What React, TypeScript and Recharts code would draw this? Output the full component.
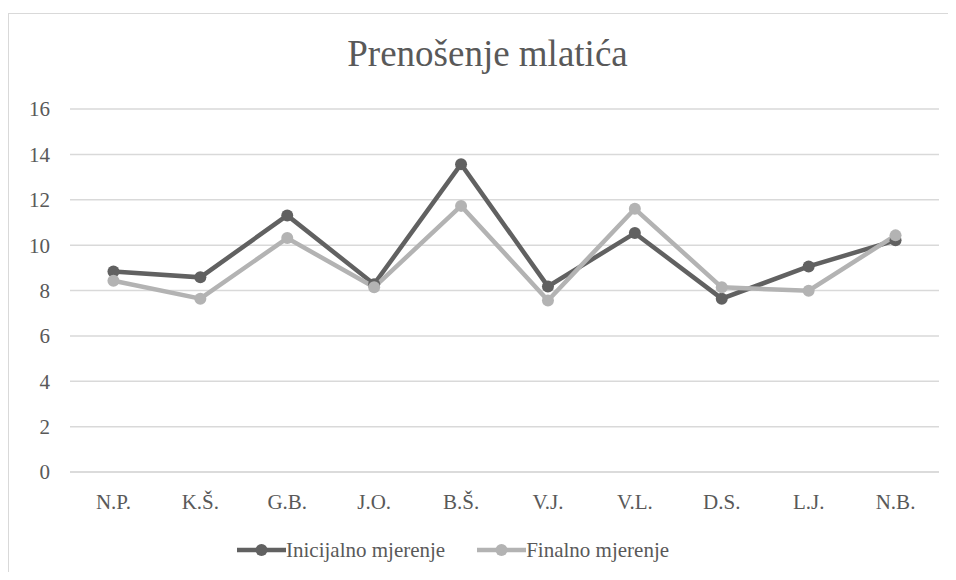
import { CartesianGrid, Legend, Line, LineChart, XAxis, YAxis } from 'recharts'

const categories = ['N.P.', 'K.Š.', 'G.B.', 'J.O.', 'B.Š.', 'V.J.', 'V.L.', 'D.S.', 'L.J.', 'N.B.']
const inicijalno = [8.84, 8.58, 11.31, 8.28, 13.57, 8.18, 10.53, 7.64, 9.06, 10.21]
const finalno = [8.43, 7.64, 10.31, 8.14, 11.73, 7.56, 11.6, 8.14, 7.99, 10.43]
const yTicks = [0, 2, 4, 6, 8, 10, 12, 14, 16]

const SERIES = [
  { key: 'inicijalno', label: 'Inicijalno mjerenje', color: '#616161' },
  { key: 'finalno', label: 'Finalno mjerenje', color: '#b3b3b3' }
]

const FONT = 'Liberation Serif, DejaVu Serif, serif'
const TEXT = '#595959'
const GRID = '#d9d9d9'

const rows = categories.map((name, i) => ({
  name,
  inicijalno: inicijalno[i],
  finalno: finalno[i]
}))

function LegendContent() {
  return (
    <div style={{ height: 30, display: 'flex', alignItems: 'center', paddingLeft: 229, fontFamily: FONT, fontSize: 21, color: TEXT }}>
      {SERIES.map((s, i) => (
        <span key={s.key} style={{ display: 'flex', alignItems: 'center', marginRight: i === 0 ? 32 : 0 }}>
          <svg width={49} height={14} style={{ display: 'block' }}>
            <line x1={0} y1={7} x2={49} y2={7} stroke={s.color} strokeWidth={4.5} strokeLinecap="round" />
            <circle cx={24.5} cy={7} r={6} fill={s.color} />
          </svg>
          <span>{s.label}</span>
        </span>
      ))}
    </div>
  )
}

export default function App() {
  return (
    <div style={{ position: 'relative', width: 948, height: 564, overflow: 'hidden', fontFamily: FONT }}>
      <div
        style={{
          position: 'absolute',
          left: 0,
          top: 5,
          width: 1200,
          height: 900,
          borderLeft: `1.3px solid ${GRID}`,
          borderTop: `1.3px solid ${GRID}`
        }}
      />
      <div
        style={{
          position: 'absolute',
          left: 0,
          top: 27,
          width: 959,
          textAlign: 'center',
          fontFamily: FONT,
          fontSize: 37,
          lineHeight: 1,
          color: TEXT
        }}
      >
        Prenošenje mlatića
      </div>
      <div style={{ position: 'absolute', left: 0, top: 0 }}>
        <LineChart width={948} height={564} data={rows} margin={{ top: 101, right: 17, bottom: 7, left: 0 }}>
          <CartesianGrid vertical={false} stroke={GRID} strokeWidth={1.5} />
          <XAxis
            dataKey="name"
            scale="band"
            height={63}
            axisLine={{ stroke: GRID, strokeWidth: 1.5 }}
            tickLine={false}
            tickSize={10}
            tickMargin={12}
            interval={0}
            tick={{ fill: TEXT, fontSize: 21, fontFamily: FONT }}
          />
          <YAxis
            width={62}
            domain={[0, 16]}
            ticks={yTicks}
            axisLine={false}
            tickLine={false}
            tickSize={12}
            tickMargin={8}
            tick={{ fill: TEXT, fontSize: 21, fontFamily: FONT }}
          />
          <Legend verticalAlign="bottom" content={() => <LegendContent />} />
          {SERIES.map((s) => (
            <Line
              key={s.key}
              dataKey={s.key}
              name={s.label}
              stroke={s.color}
              strokeWidth={4.5}
              dot={{ r: 6, fill: s.color, stroke: s.color, strokeWidth: 0 }}
              activeDot={false}
              isAnimationActive={false}
            />
          ))}
        </LineChart>
      </div>
    </div>
  )
}
